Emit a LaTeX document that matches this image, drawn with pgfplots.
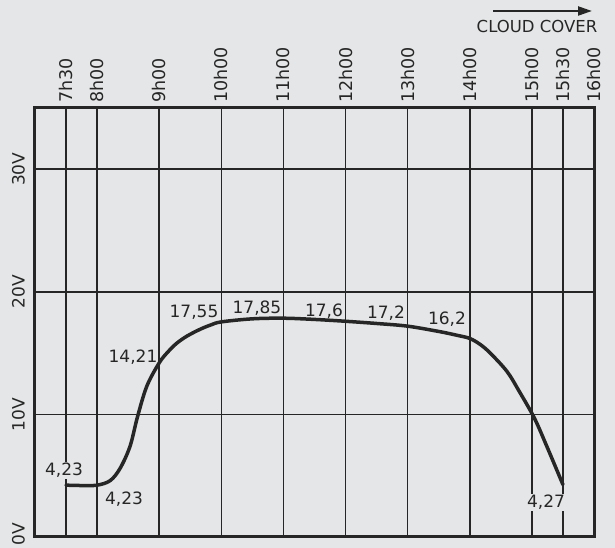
\documentclass[border=0pt]{standalone}
\usepackage{pgfplots}
\pgfplotsset{compat=1.18}
\usepackage{fontspec}
\setmainfont{DejaVu Sans}
\usetikzlibrary{arrows.meta}
\definecolor{paper}{RGB}{229,230,231}
\definecolor{ink}{RGB}{38,38,38}
\begin{document}
\begin{tikzpicture}[x=1pt,y=1pt]
\fill[paper] (0,0) rectangle (615,548);
\path[use as bounding box] (0,0) rectangle (615,548);
\begin{axis}[
  at={(35pt,11pt)}, anchor=south west,
  width=559pt, height=429pt, scale only axis,
  xmin=7, xmax=16, ymin=0, ymax=35,
  axis line style={line width=3pt, ink},
  xtick={7.5,8,9,10,11,12,13,14,15,15.5,16},
  xticklabels={7h30,8h00,9h00,10h00,11h00,12h00,13h00,14h00,15h00,15h30,16h00},
  xticklabel pos=top,
  xticklabel style={rotate=90, anchor=west, font=\fontsize{17.5}{17.5}\selectfont, text=ink, inner sep=2pt},
  xticklabel shift=3pt,
  ytick={0,10,20,30},
  yticklabels={,10V,20V,30V},
  yticklabel style={rotate=90, anchor=south, font=\fontsize{17}{17}\selectfont, text=ink, inner sep=2pt},
  yticklabel shift=8pt,
  major tick length=0pt,
  grid=major,
  grid style={line width=1.6pt, ink},
  clip=false,
]
\addplot[ink, line width=3.5pt, smooth, tension=0.55, line cap=round] coordinates {
 (7.5,4.23) (7.75,4.2) (8.0,4.23) (8.21,4.6) (8.37,5.6) (8.53,7.4) (8.65,9.8) (8.8,12.3)
 (9.0,14.21) (9.14,15.1) (9.28,15.8) (9.45,16.4) (9.66,16.95) (9.83,17.3) (10.0,17.55) (10.5,17.8) (11.0,17.85) (11.5,17.75) (12.0,17.6)
 (12.5,17.42) (13.0,17.2) (13.52,16.75) (13.8,16.45) (14.0,16.2) (14.17,15.7) (14.33,15.0) (14.6,13.5) (14.8,11.85)
 (15.04,9.7) (15.24,7.4) (15.5,4.27)
};
\tikzset{lbl/.style={anchor=base, inner sep=1.5pt, text=ink, font=\fontsize{17}{17}\selectfont}}
\node[lbl, fill=paper] at (axis cs:7.467,4.98) {4,23};
\node[lbl] at (axis cs:8.433,2.69) {4,23};
\node[lbl] at (axis cs:8.578,14.20) {14,21};
\node[lbl] at (axis cs:9.56,17.9) {17,55};
\node[lbl] at (axis cs:10.574,18.2) {17,85};
\node[lbl] at (axis cs:11.653,17.95) {17,6};
\node[lbl] at (axis cs:12.65,17.85) {17,2};
\node[lbl] at (axis cs:13.633,17.3) {16,2};
\node[lbl, fill=paper] at (axis cs:15.227,2.37) {4,27};
\node[rotate=90, anchor=south, font=\fontsize{17}{17}\selectfont, text=ink, inner sep=2pt] at ([xshift=-8pt, yshift=3pt]axis cs:7,0) {0V};
\end{axis}
\node[text=ink, font=\fontsize{16.5}{16.5}\selectfont] at (537,521) {CLOUD COVER};
\draw[ink, line width=2.2pt, -{Triangle[length=14pt, width=9pt]}] (493,537) -- (592,537);
\end{tikzpicture}
\end{document}
